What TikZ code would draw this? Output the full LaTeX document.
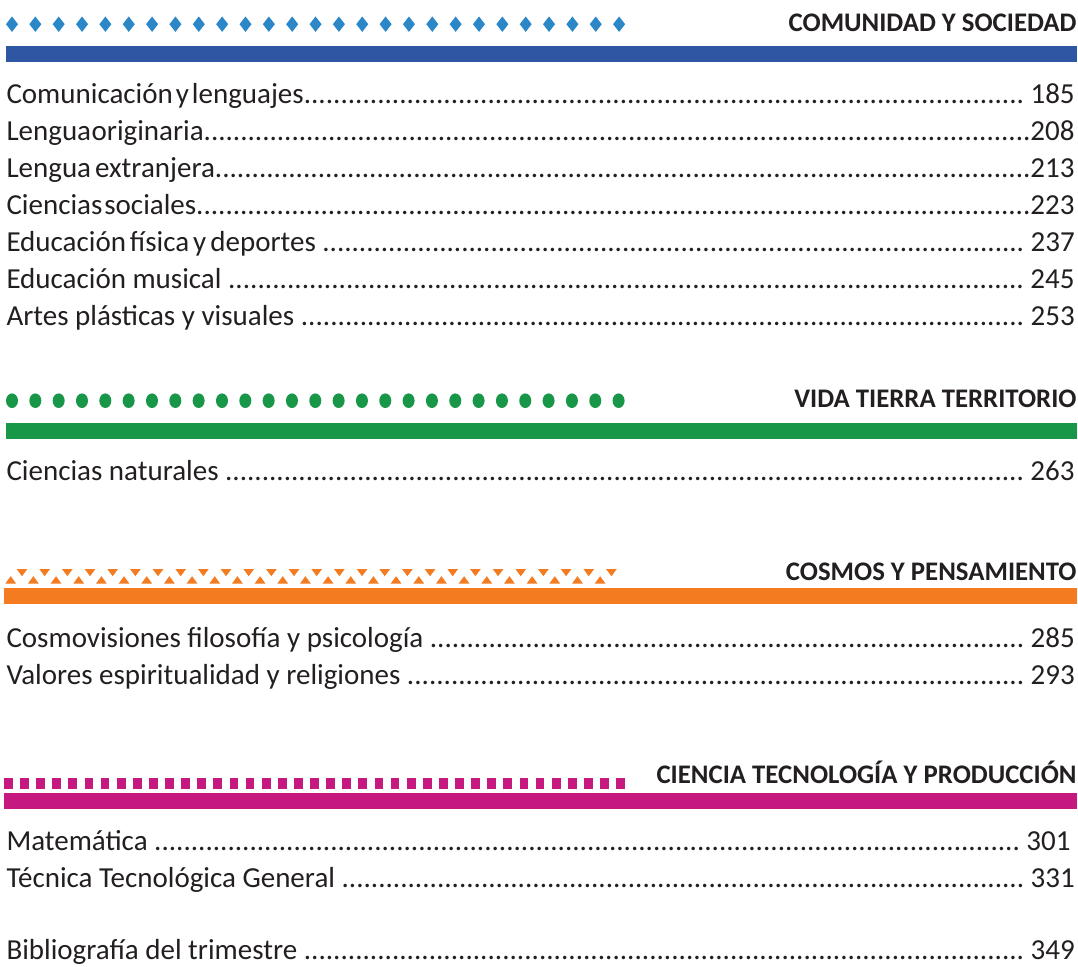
\documentclass[tikz,border=0pt]{standalone}
\usepackage{fontspec}
\setmainfont{Carlito}
\definecolor{diamondblue}{HTML}{2B87C8}
\definecolor{barblue}{HTML}{2E56A3}
\definecolor{tocgreen}{HTML}{199749}
\definecolor{tocorange}{HTML}{F47B20}
\definecolor{tocpink}{HTML}{C6197F}
\definecolor{textdark}{HTML}{231F20}
\newlength{\rowwd}
\setlength{\rowwd}{1069.5pt}
\newcommand{\tocline}[2]{\hbox to \rowwd{#1\xleaders\hbox{.}\hfill#2}}
\begin{document}
\begin{tikzpicture}[x=1pt,y=-1pt,
  entry/.style={anchor=base west, inner sep=0pt, outer sep=0pt, text=textdark, font=\fontsize{29}{34}\selectfont},
  heading/.style={anchor=base east, inner sep=0pt, outer sep=0pt, text=textdark, font=\bfseries\fontsize{26.8}{32}\selectfont},
  ]
\useasboundingbox (0,0) rectangle (1078,966);
\fill[white] (0,0) rectangle (1078,966);

% ---- Comunidad y sociedad
\foreach \k in {0,...,26}
  \fill[diamondblue] ({12+23.35*\k},16.5) -- ++(6,7.7) -- ++(-6,7.7) -- ++(-6,-7.7) -- cycle;
\node[heading] (t1) at (1076.5,32) {COMUNIDAD Y SOCIEDAD};
\fill[barblue] (6,46) rectangle (1077,62);
\node[entry] (e1) at (6.5,103) {\tocline{Comunicación\kern3pt y\kern3pt lenguajes}{\ 185}};
\node[entry] (e2) at (6.5,140) {\tocline{Lengua\kern0.5pt originaria}{208}};
\node[entry] (e3) at (6.5,177) {\tocline{Lengua\kern4pt extranjera}{213}};
\node[entry] (e4) at (6.5,214) {\tocline{Ciencias\kern2pt sociales}{223}};
\node[entry] (e5) at (6.5,251) {\tocline{Educación\kern4pt física\kern4pt y\kern4pt deportes\ }{\ 237}};
\node[entry] (e6) at (6.5,288) {\tocline{Educación musical\ }{\ 245}};
\node[entry] (e7) at (6.5,325) {\tocline{Artes plásticas y visuales\ }{\ 253}};

% ---- Vida tierra territorio
\foreach \k in {0,...,26}
  \fill[tocgreen] ({12+23.33*\k},400.7) ellipse [x radius=6, y radius=7.3];
\node[heading] (t2) at (1076.5,407.3) {VIDA TIERRA TERRITORIO};
\fill[tocgreen] (6,423) rectangle (1077,439);
\node[entry] (e8) at (6.5,480) {\tocline{Ciencias naturales\ }{\ 263}};

% ---- Cosmos y pensamiento
\foreach \k in {0,...,26} {
  \fill[tocorange] ({22+22.67*\k-5.35},569) -- ++(10.7,0) -- ++(-5.35,7.2) -- cycle;
  \fill[tocorange] ({10.7+22.67*\k-5.35},583.5) -- ++(10.7,0) -- ++(-5.35,-7.3) -- cycle;
}
\node[heading] (t3) at (1076.5,580) {COSMOS Y PENSAMIENTO};
\fill[tocorange] (4,588) rectangle (1077,604);
\node[entry] (e9) at (6.5,647) {\tocline{Cosmovisiones filosofía y psicología\ }{\ 285}};
\node[entry] (e10) at (6.5,684) {\tocline{Valores espiritualidad y religiones\ }{\ 293}};

% ---- Ciencia tecnologia y produccion
\foreach \k in {0,...,38}
  \fill[tocpink] ({4+16.11*\k},778.3) rectangle ++(8.8,10.7);
\node[heading] (t4) at (1076.5,783.3) {CIENCIA TECNOLOGÍA Y PRODUCCIÓN};
\fill[tocpink] (4,793) rectangle (1077,809);
\node[entry] (e11) at (6.5,850) {\tocline{Matemática\ }{\ 301\kern4pt}};
\node[entry] (e12) at (6.5,887) {\tocline{Técnica Tecnológica General\ }{\ 331}};
\node[entry] (e13) at (6.5,959) {\tocline{Bibliografía del trimestre\ }{\ 349}};
\end{tikzpicture}
\end{document}
